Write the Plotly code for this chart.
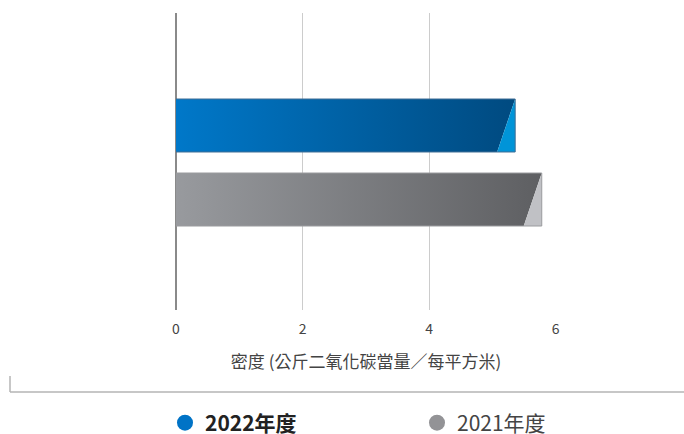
import plotly.graph_objects as go

categories = ["2022年度", "2021年度"]
values = [5.36, 5.78]
y_positions = [1, 0]
grad_left = ["#0078c9", "#989a9e"]
grad_right = ["#004a80", "#5e5f62"]
tip_colors = ["#0094d8", "#c0c1c5"]
edge_colors = ["#3f6d94", "#9a9b9e"]
legend_colors = ["#0073c6", "#939396"]
legend_names = ["<b>2022年度</b>", "<span style='color:#444'>2021年度</span>"]
legend_ids = ["legend", "legend2"]
legend_x = [165, 417]
x_ticks = [0, 2, 4, 6]
x_title = "密度 (公斤二氧化碳當量／每平方米)"

HALF = 0.358   # half bar thickness (y units)
SLANT = 0.285  # width of the slanted tip (x units)

fig = go.Figure()

for i, (cat, v, y) in enumerate(zip(categories, values, y_positions)):
    top, bot = y + HALF, y - HALF
    fig.add_trace(go.Scatter(
        x=[0, v, v - SLANT, 0, 0], y=[top, top, bot, bot, top],
        fill="toself", mode="lines", line=dict(width=0),
        fillgradient=dict(type="horizontal",
                          colorscale=[[0, grad_left[i]], [1, grad_right[i]]]),
        showlegend=False, hoverinfo="text", text=f"{cat}: {v}"))
    fig.add_trace(go.Scatter(
        x=[v, v, v - SLANT, v], y=[top, bot, bot, top],
        fill="toself", mode="lines", line=dict(width=0),
        fillcolor=tip_colors[i], showlegend=False, hoverinfo="skip"))
    fig.add_trace(go.Scatter(
        x=[0, v, v, 0], y=[top, top, bot, bot],
        mode="lines", line=dict(width=1, color=edge_colors[i]),
        showlegend=False, hoverinfo="skip"))

for name, col, lid in zip(legend_names, legend_colors, legend_ids):
    fig.add_trace(go.Scatter(
        x=[None], y=[None], mode="markers", name=name, legend=lid,
        marker=dict(symbol="circle", size=20, color=col)))

legend_common = dict(orientation="h", xref="container", yref="container",
                     y=11 / 434, xanchor="left", yanchor="middle",
                     font=dict(size=21, color="#222"), itemwidth=30,
                     bgcolor="rgba(0,0,0,0)")

fig.update_layout(
    width=684, height=434,
    margin=dict(l=176, r=128, t=13, b=124),
    paper_bgcolor="white", plot_bgcolor="white",
    font=dict(family="Noto Sans CJK TC, Noto Sans, sans-serif", color="#444"),
    xaxis=dict(range=[0, 6.005], tickvals=x_ticks, ticktext=[str(t) for t in x_ticks],
               showgrid=True, gridcolor="#cccccc", gridwidth=1,
               zeroline=True, zerolinecolor="#8a8a8a", zerolinewidth=2,
               showline=False, ticks="", tickfont=dict(size=14, color="#444"),
               ticklabelstandoff=9,
               title=dict(text=x_title, font=dict(size=17, color="#444"), standoff=19),
               fixedrange=True),
    yaxis=dict(range=[-1.493, 2.52], showgrid=False, zeroline=False,
               showticklabels=False, ticks="", fixedrange=True),
    legend=dict(legend_common, x=legend_x[0] / 684),
    legend2=dict(legend_common, x=legend_x[1] / 684),
    shapes=[
        dict(type="line", xref="paper", yref="paper",
             x0=(10 - 176) / 380, x1=(10 - 176) / 380,
             y0=(310 - 376) / 297, y1=(310 - 392) / 297,
             line=dict(color="#b5b5b5", width=1.5)),
        dict(type="line", xref="paper", yref="paper",
             x0=(10 - 176) / 380, x1=(684 - 176) / 380,
             y0=(310 - 392) / 297, y1=(310 - 392) / 297,
             line=dict(color="#b5b5b5", width=1.5)),
    ],
)

fig.write_html("out.html", config={"displayModeBar": False},
               post_script="document.body.style.margin='0';")
